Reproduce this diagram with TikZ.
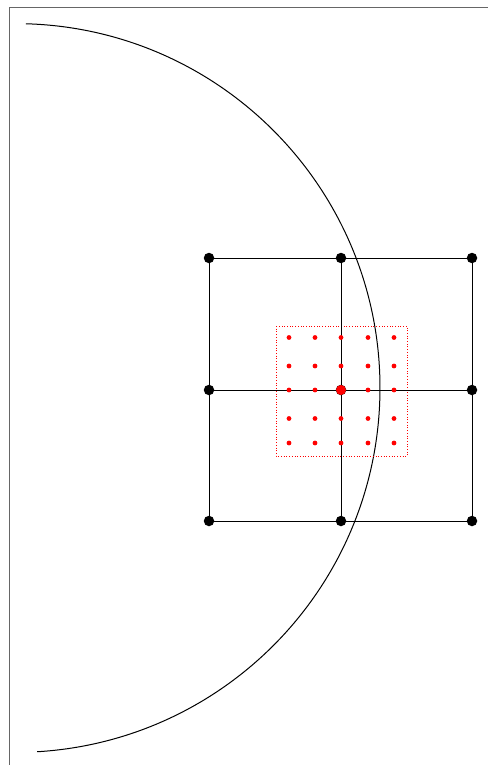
\documentclass[tikz,border=0pt]{standalone}
\begin{document}
\begin{tikzpicture}[x=1pt,y=-1pt,
  bigdot/.style={circle,fill=black,inner sep=0pt,minimum size=10.5pt},
  reddot/.style={circle,fill=red,inner sep=0pt,minimum size=4.8pt},
  redbig/.style={circle,fill=red,inner sep=0pt,minimum size=10pt},
  gridline/.style={black,line width=1pt},
  framel/.style={gray!80!black,line width=0.9pt}]
\useasboundingbox (0,0) rectangle (487,765);
% frame
\coordinate (f1) at (9.5,800);
\coordinate (f2) at (9.5,7.5);
\coordinate (f3) at (500,7.5);
\draw[framel] (f1) -- (f2) -- (f3);
% arc
\draw[black,line width=1pt] (15.6,388) ++(-88.4:364.4) arc[start angle=-88.4,end angle=86.6,radius=364.4];
% dotted red box
\draw[red,dotted,line width=0.7pt] (276,326) rectangle (407,456);
% black grid nodes
\foreach \i/\x in {0/209,1/341,2/472}{
  \foreach \j/\y in {0/258,1/390,2/521}{
    \node[bigdot] (g\i\j) at (\x,\y) {};
  }
}
\draw[gridline] (g00) -- (g20) -- (g22) -- (g02) -- (g00);
\draw[gridline] (g01) -- (g21);
\draw[gridline] (g10) -- (g12);
% red grid
\foreach \i/\x in {0/289,1/315,2/341,3/368,4/394}{
  \foreach \j/\y in {0/337.5,1/366,2/390,3/418.5,4/443}{
    \node[reddot] (r\i\j) at (\x,\y) {};
  }
}
\node[redbig] (rc) at (341,390) {};
\end{tikzpicture}
\end{document}
